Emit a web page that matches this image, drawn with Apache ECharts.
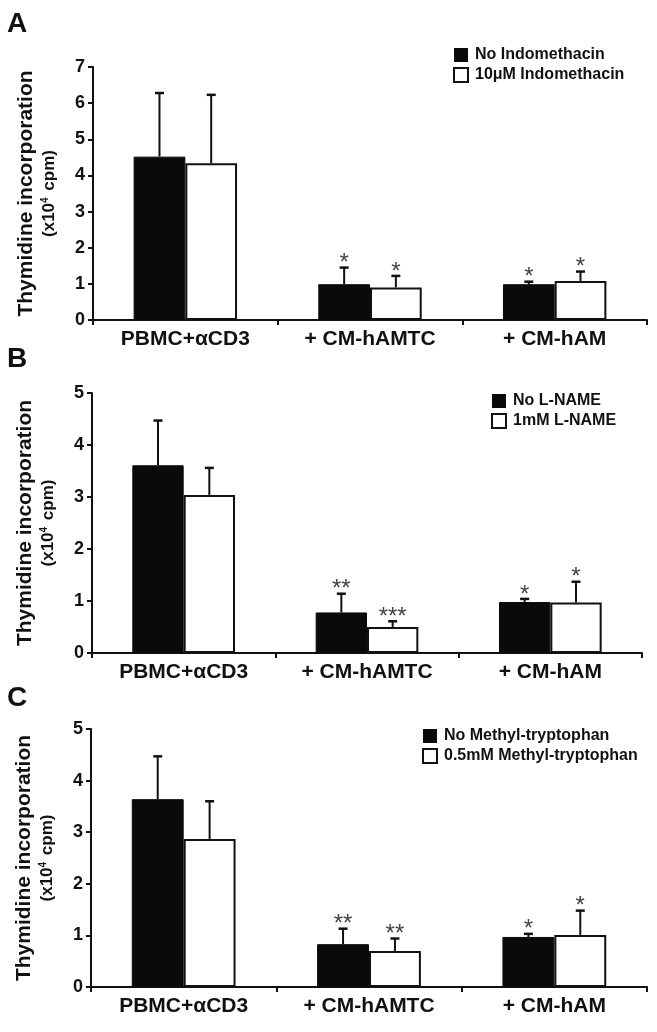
<!DOCTYPE html>
<html>
<head>
<meta charset="utf-8">
<script src="https://cdn.jsdelivr.net/npm/echarts@6/dist/echarts.min.js"></script>
<style>
html,body{margin:0;padding:0;background:#fff;}
#chart{width:657px;height:1032px;}
</style>
</head>
<body>
<div id="chart"></div>
<script>
var categories = ['PBMC+αCD3', '+ CM-hAMTC', '+ CM-hAM'];

// Panel A
var namesA = ['No Indomethacin', '10μM Indomethacin'];
var blackA = [4.52, 0.99, 0.99];
var blackErrA = [1.76, 0.46, 0.07];
var blackStarsA = ['', '*', '*'];
var whiteA = [4.34, 0.90, 1.08];
var whiteErrA = [1.89, 0.32, 0.26];
var whiteStarsA = ['', '*', '*'];
var yTicksA = [0, 1, 2, 3, 4, 5, 6, 7];

// Panel B
var namesB = ['No L-NAME', '1mM L-NAME'];
var blackB = [3.61, 0.78, 0.98];
var blackErrB = [0.86, 0.36, 0.06];
var blackStarsB = ['', '**', '*'];
var whiteB = [3.04, 0.50, 0.97];
var whiteErrB = [0.52, 0.11, 0.40];
var whiteStarsB = ['', '***', '*'];
var yTicksB = [0, 1, 2, 3, 4, 5];

// Panel C
var namesC = ['No Methyl-tryptophan', '0.5mM Methyl-tryptophan'];
var blackC = [3.64, 0.83, 0.97];
var blackErrC = [0.83, 0.30, 0.06];
var blackStarsC = ['', '**', '*'];
var whiteC = [2.87, 0.70, 1.01];
var whiteErrC = [0.73, 0.24, 0.47];
var whiteStarsC = ['', '**', '*'];
var yTicksC = [0, 1, 2, 3, 4, 5];

var panelLetters = ['A', 'B', 'C'];

var FONT = '"Liberation Sans", Arial, Helvetica, sans-serif';
var INK = '#111';

var panels = [
  {names: namesA, black: blackA, blackErr: blackErrA, blackStars: blackStarsA, white: whiteA, whiteErr: whiteErrA, whiteStars: whiteStarsA, ticks: yTicksA,
   grid: {left: 93, top: 67, width: 554, height: 253}, legend: {left: 453, top: 46}, letterTop: 10},
  {names: namesB, black: blackB, blackErr: blackErrB, blackStars: blackStarsB, white: whiteB, whiteErr: whiteErrB, whiteStars: whiteStarsB, ticks: yTicksB,
   grid: {left: 92, top: 393, width: 550, height: 260}, legend: {left: 491, top: 392}, letterTop: 345},
  {names: namesC, black: blackC, blackErr: blackErrC, blackStars: blackStarsC, white: whiteC, whiteErr: whiteErrC, whiteStars: whiteStarsC, ticks: yTicksC,
   grid: {left: 91, top: 729, width: 556, height: 258}, legend: {left: 422, top: 727}, letterTop: 684}
];

var BAR_FRAC = 0.28;

function errRender(sign) {
  return function (params, api) {
    var cat = api.value(0), mean = api.value(1), err = api.value(2);
    var star = api.value(3);
    var catW = api.size([1, 0])[0];
    var off = sign * catW * BAR_FRAC / 2;
    var base = api.coord([cat, mean]);
    var top = api.coord([cat, mean + err]);
    var x = base[0] + off;
    var children = [
      {type: 'line', shape: {x1: x, y1: base[1], x2: x, y2: top[1]}, style: {stroke: INK, lineWidth: 2}},
      {type: 'line', shape: {x1: x - 4.5, y1: top[1], x2: x + 4.5, y2: top[1]}, style: {stroke: INK, lineWidth: 2.5}}
    ];
    if (star) {
      children.push({type: 'text', style: {text: star, x: x, y: top[1] + 8, align: 'center', verticalAlign: 'bottom',
        font: 'normal 24px ' + FONT, fill: '#444'}});
    }
    return {type: 'group', children: children};
  };
}

var option = {
  animation: false,
  backgroundColor: '#fff',
  textStyle: {fontFamily: FONT},
  grid: [], xAxis: [], yAxis: [], series: [], legend: [], graphic: []
};

panels.forEach(function (p, i) {
  option.grid.push(p.grid);
  option.xAxis.push({
    type: 'category', gridIndex: i, data: categories, boundaryGap: true,
    axisLine: {lineStyle: {color: INK, width: 2}},
    axisTick: {show: true, length: 5, lineStyle: {color: INK, width: 2}},
    axisLabel: {color: INK, fontSize: 21, fontWeight: 'bold', fontFamily: FONT, margin: 9, interval: 0}
  });
  var maxV = p.ticks[p.ticks.length - 1];
  option.yAxis.push({
    type: 'value', gridIndex: i, min: p.ticks[0], max: maxV, interval: 1,
    splitLine: {show: false},
    axisLine: {show: true, lineStyle: {color: INK, width: 2}},
    axisTick: {show: true, length: 5, lineStyle: {color: INK, width: 2}},
    axisLabel: {color: INK, fontSize: 18, fontWeight: 'bold', fontFamily: FONT, margin: 8},
    name: '{t|Thymidine incorporation}\n{s|(x10}{sup|4}{s| cpm)}',
    nameLocation: 'middle', nameRotate: 90, nameGap: 33,
    nameTextStyle: {
      color: INK, fontFamily: FONT, align: 'center',
      rich: {
        t: {fontSize: 21, fontWeight: 'bold', lineHeight: 25, fontFamily: FONT, color: INK},
        s: {fontSize: 17, fontWeight: 'bold', lineHeight: 21, fontFamily: FONT, color: INK},
        sup: {fontSize: 10, fontWeight: 'bold', lineHeight: 21, padding: [0, 2, 9, 0], fontFamily: FONT, color: INK}
      }
    }
  });
  option.series.push({
    name: p.names[0], type: 'bar', xAxisIndex: i, yAxisIndex: i, data: p.black,
    barWidth: (BAR_FRAC * 100) + '%', barGap: '0%',
    itemStyle: {color: '#0a0a0a', borderColor: '#0a0a0a', borderWidth: 1}
  });
  option.series.push({
    name: p.names[1], type: 'bar', xAxisIndex: i, yAxisIndex: i, data: p.white,
    barWidth: (BAR_FRAC * 100) + '%', barGap: '0%',
    itemStyle: {color: '#fff', borderColor: INK, borderWidth: 2}
  });
  option.series.push({
    type: 'custom', xAxisIndex: i, yAxisIndex: i, z: 5,
    renderItem: errRender(-1),
    data: p.black.map(function (v, k) { return [k, v, p.blackErr[k], p.blackStars[k]]; })
  });
  option.series.push({
    type: 'custom', xAxisIndex: i, yAxisIndex: i, z: 5,
    renderItem: errRender(1),
    data: p.white.map(function (v, k) { return [k, v, p.whiteErr[k], p.whiteStars[k]]; })
  });
  option.legend.push({
    orient: 'vertical', left: p.legend.left, top: p.legend.top + 1, padding: 0,
    itemWidth: 14, itemHeight: 14, itemGap: 4, icon: 'rect',
    textStyle: {fontSize: 16, fontWeight: 'bold', color: INK, fontFamily: FONT, padding: [0, 0, 0, 2]},
    data: [
      {name: p.names[0], itemStyle: {color: '#0a0a0a', borderWidth: 0}},
      {name: p.names[1], itemStyle: {color: '#fff', borderColor: INK, borderWidth: 2}}
    ],
    selectedMode: false
  });
  option.graphic.push({
    type: 'text', left: 7, top: p.letterTop,
    style: {text: panelLetters[i], font: 'bold 28px ' + FONT, fill: INK}
  });
});

var chart = echarts.init(document.getElementById('chart'), null, {renderer: 'canvas'});
chart.setOption(option);
</script>
</body>
</html>
